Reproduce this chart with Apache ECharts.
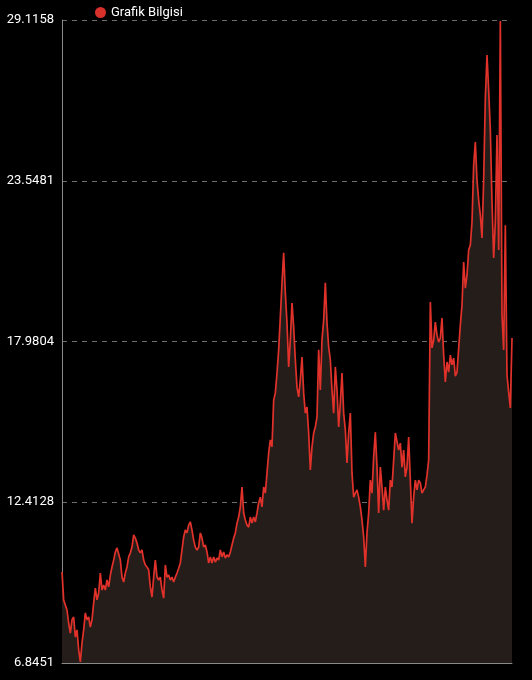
<!DOCTYPE html>
<html>
<head>
<meta charset="utf-8">
<script src="https://cdn.jsdelivr.net/npm/echarts@6/dist/echarts.min.js"></script>
<style>
html,body{margin:0;padding:0;background:#000;}
#chart{width:532px;height:680px;}
</style>
</head>
<body>
<div id="chart"></div>
<script>
const seriesName = 'Grafik Bilgisi';
const yTicks = [6.8451, 12.4128, 17.9804, 23.5481, 29.1158];
const values = [
10.00,9.03,8.85,8.68,8.23,7.88,8.34,8.44,7.74,7.99,
7.30,6.88,7.54,7.99,8.58,8.34,8.44,8.09,8.34,8.93,
9.44,9.03,9.27,9.96,9.37,9.55,9.37,9.72,9.48,9.89,
10.17,10.41,10.69,10.83,10.86,10.41,9.82,9.65,9.96,10.17,
10.52,10.66,10.86,11.28,11.17,11.00,10.76,10.66,10.76,10.41,
10.24,10.17,10.07,9.48,9.13,9.82,10.41,9.82,9.72,9.82,
9.37,9.09,10.24,9.82,9.89,9.72,9.82,9.65,9.82,9.96,
10.13,10.31,10.76,11.21,11.45,11.35,11.62,11.73,11.45,11.10,
10.86,10.76,10.86,11.35,11.17,10.86,10.93,10.69,10.31,10.52,
10.31,10.52,10.34,10.48,10.41,10.76,10.52,10.69,10.48,10.59,
10.52,10.69,10.93,11.17,11.35,11.69,11.90,12.25,12.94,12.04,
11.80,11.62,11.55,11.90,11.69,11.90,11.73,12.04,12.39,12.59,
12.25,12.94,12.73,13.42,14.12,14.57,14.33,15.95,16.20,16.89,
17.69,18.83,20.01,21.05,19.66,18.62,17.10,18.03,19.31,18.48,
17.34,16.40,16.06,16.65,17.44,16.20,15.50,15.71,14.81,13.53,
14.33,14.81,15.02,15.37,17.69,16.30,18.03,18.72,20.01,18.62,
17.79,17.34,16.30,15.50,17.10,16.30,15.02,15.85,16.89,15.50,
14.92,13.77,14.81,15.50,13.42,12.59,12.73,12.84,12.59,12.25,
11.80,11.21,10.17,11.35,12.04,13.18,12.73,13.98,14.84,13.63,
12.04,13.63,12.94,12.14,12.94,12.49,12.14,13.18,12.94,13.87,
14.81,14.84,14.22,14.46,13.63,14.22,13.29,13.63,14.67,13.18,
11.69,12.59,13.18,12.84,13.18,13.08,12.73,12.84,12.94,13.35,
13.87,19.35,17.76,18.03,18.65,18.20,17.96,18.10,18.79,17.51,
16.58,17.27,16.92,17.51,17.17,17.41,16.78,16.92,16.92,18.55,
19.24,20.73,19.83,20.28,21.15,21.32,22.12,24.09,24.89,23.57,
22.88,22.36,21.57,23.57,26.41,27.90,26.69,25.31,22.81,20.87,
22.12,25.13,21.15,29.08,18.90,17.69,22.01,16.82,16.23,15.68,
18.10
];
const categories = values.map((_, i) => String(i + 1));

const chart = echarts.init(document.getElementById('chart'), null, {renderer: 'canvas'});
chart.setOption({
  backgroundColor: '#000000',
  animation: false,
  textStyle: {fontFamily: 'Roboto'},
  legend: {
    data: [seriesName],
    left: 90, top: 1,
    icon: 'circle',
    itemWidth: 11, itemHeight: 11,
    textStyle: {color: '#ffffff', fontSize: 13, fontFamily: 'Roboto'}
  },
  grid: {left: 62, right: 20, top: 20, bottom: 17, containLabel: false},
  xAxis: {
    type: 'category',
    data: categories,
    boundaryGap: false,
    axisLine: {show: true, lineStyle: {color: '#8a8a8a', width: 1}},
    axisTick: {show: false},
    axisLabel: {show: false},
    splitLine: {show: false}
  },
  yAxis: {
    type: 'value',
    min: yTicks[0],
    max: yTicks[yTicks.length - 1],
    axisLine: {show: true, lineStyle: {color: '#8a8a8a', width: 1}},
    axisTick: {show: false, customValues: yTicks},
    axisLabel: {
      customValues: yTicks,
      color: '#ffffff', fontSize: 13, fontFamily: 'Roboto', margin: 8,
      formatter: v => Number(v).toFixed(4)
    },
    splitLine: {show: true, lineStyle: {color: '#6e6e6e', type: [5, 5], width: 1}}
  },
  series: [{
    name: seriesName,
    type: 'line',
    data: values,
    showSymbol: false,
    symbol: 'circle',
    itemStyle: {color: '#d8302a'},
    lineStyle: {color: '#e0322a', width: 1.7},
    areaStyle: {color: '#251d1a', opacity: 1}
  }]
});
</script>
</body>
</html>
